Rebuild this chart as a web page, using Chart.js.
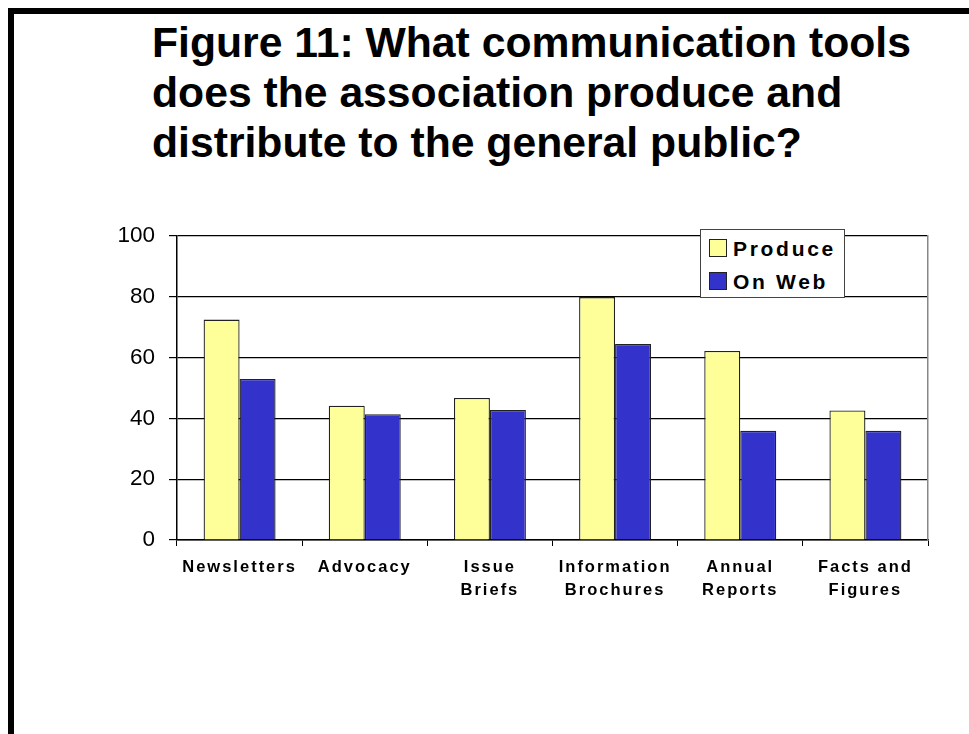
<!DOCTYPE html>
<html>
<head>
<meta charset="utf-8">
<script src="https://cdn.jsdelivr.net/npm/chart.js@4.4.1/dist/chart.umd.min.js"></script>
<style>
  html, body { margin: 0; padding: 0; background: #fff; }
  #page { position: relative; width: 969px; height: 734px; overflow: hidden; font-family: "Liberation Sans", Arial, sans-serif; }
  #frame { position: absolute; left: 8px; top: 8px; width: 975px; height: 740px; border-left: 6px solid #000; border-top: 6px solid #000; }
  #title { position: absolute; left: 152px; top: 17px; font-size: 42.7px; font-weight: bold; line-height: 50px; color: #000; margin: 0; }
  #chartbox { position: absolute; left: 0; top: 0; width: 969px; height: 734px; }
  #legend { position: absolute; left: 700px; top: 229px; width: 143px; height: 67px; border: 1.5px solid #444; background: #fff; }
  #legend .item { position: absolute; left: 8px; height: 26px; font-size: 21px; font-weight: bold; letter-spacing: 2.7px; line-height: 26px; white-space: nowrap; }
  #legend .sw { display: inline-block; width: 16px; height: 16px; border: 1px solid #222; vertical-align: -1px; margin-right: 6px; }
</style>
</head>
<body>
<div id="page">
  <div id="frame"></div>
  <h1 id="title">Figure 11: What communication tools<br>does the association produce and<br>distribute to the general public?</h1>
  <div id="chartbox"><canvas id="chart" width="969" height="734"></canvas></div>
  <div id="legend"></div>
</div>
<script>
var categories = [["Newsletters"], ["Advocacy"], ["Issue", "Briefs"], ["Information", "Brochures"], ["Annual", "Reports"], ["Facts and", "Figures"]];
var seriesNames = ["Produce", "On Web"];
var produceValues = [72.5, 44.2, 46.7, 79.9, 62.2, 42.6];
var webValues = [53.0, 41.4, 42.8, 64.5, 35.9, 35.9];
var yTicks = [0, 20, 40, 60, 80, 100];
var seriesColors = ["#FFFF99", "#3333CC"];

var page_chart = {
	initialize: function() {
		this.chart = this.init_bars('chart');
		this.init_legend('legend');
	},
	init_bars: function(canvasId) {
		// x labels are letter-spaced in the original, patch the x scale's label drawing
		var spacingPlugin = {
			id: 'xLetterSpacing',
			beforeDraw: function(chart) {
				var xs = chart.scales.x;
				if (xs && !xs._spaced) {
					var orig = xs.drawLabels.bind(xs);
					xs.drawLabels = function(area) {
						var ctx = chart.ctx;
						ctx.save();
						ctx.letterSpacing = '2px';
						orig(area);
						ctx.restore();
					};
					xs._spaced = true;
				}
			}
		};

		var config = {
			type: 'bar',
			data: {
				labels: categories,
				datasets: [{
					label: seriesNames[0],
					data: produceValues,
					backgroundColor: seriesColors[0],
					borderColor: '#222',
					borderWidth: 1.3
				}, {
					label: seriesNames[1],
					data: webValues,
					backgroundColor: seriesColors[1],
					borderColor: '#222',
					borderWidth: 1.3
				}]
			},
			options: {
				responsive: false,
				animation: false,
				devicePixelRatio: 1,
				layout: { padding: { left: 0, top: 236, right: 41, bottom: 0 } },
				datasets: { bar: { barPercentage: 1, categoryPercentage: 0.575 } },
				plugins: {
					legend: { display: false },
					tooltip: { enabled: false }
				},
				scales: {
					x: {
						grid: { display: true, drawOnChartArea: false, drawTicks: true, tickLength: 6, color: '#000', offset: true },
						border: { display: true, color: '#000', width: 1.5 },
						ticks: {
							color: '#000',
							padding: 10,
							maxRotation: 0,
							autoSkip: false,
							font: { family: '"Liberation Sans", Arial, sans-serif', size: 16.5, weight: 'bold', lineHeight: 1.4 }
						},
						afterFit: function(scale) { scale.height = 194; }
					},
					y: {
						min: 0,
						max: 100,
						afterBuildTicks: function(scale) {
							scale.ticks = yTicks.map(function(v) { return { value: v }; });
						},
						grid: { color: '#000', lineWidth: 1.2, tickLength: 8, drawTicks: true },
						border: { display: true, color: '#000', width: 1.5 },
						ticks: {
							color: '#000',
							padding: 14,
							font: { family: '"Liberation Sans", Arial, sans-serif', size: 22.5 }
						},
						afterFit: function(scale) { scale.width = 177; }
					},
					yRight: {
						position: 'right',
						min: 0,
						max: 100,
						grid: { display: false },
						border: { display: true, color: '#888', width: 1.5 },
						ticks: { display: false },
						afterFit: function(scale) { scale.width = 0; }
					}
				}
			},
			plugins: [spacingPlugin]
		};

		var ctx = document.getElementById(canvasId).getContext('2d');
		return new Chart(ctx, config);
	},
	init_legend: function(legendId) {
		var box = document.getElementById(legendId);
		var ds = this.chart.data.datasets;
		for (var i = 0; i < ds.length; i++) {
			var item = document.createElement('div');
			item.className = 'item';
			item.style.top = (6 + i * 33) + 'px';
			var sw = document.createElement('span');
			sw.className = 'sw';
			sw.style.background = ds[i].backgroundColor;
			item.appendChild(sw);
			item.appendChild(document.createTextNode(ds[i].label));
			box.appendChild(item);
		}
	}
};

page_chart.initialize();
</script>
</body>
</html>
